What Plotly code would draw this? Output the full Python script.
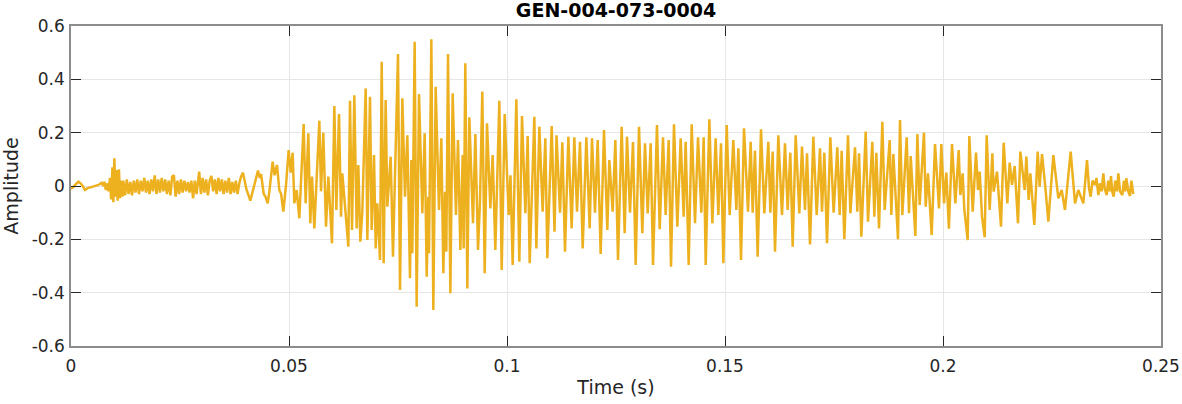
import numpy as np
import plotly.graph_objects as go

# time in ms, amplitude (peaks / troughs)
onset_t_ms = [0.0, 0.5, 1.0, 1.7, 2.2, 2.7, 3.2, 3.8, 4.5, 5.5, 6.3, 7.0, 7.4, 7.65, 8.0,
              8.3, 8.6, 8.95, 9.2, 9.5, 9.71, 9.94, 10.2, 10.47, 10.7, 11.0, 11.24, 11.5, 11.8]
onset_amp = [-0.01, -0.005, 0.005, 0.016, 0.01, 0.0, -0.015, -0.008, -0.005, 0.0, 0.004, 0.012, 0.0, 0.016, -0.015,
             0.01, -0.02, 0.03, -0.05, 0.07, -0.061, 0.104, -0.04, 0.06, -0.055, 0.0625, -0.046, 0.02, -0.04]

noise_t_ms = [12.0, 12.4, 12.8, 13.2, 13.6, 14.0, 14.4, 14.8, 15.2, 15.6, 16.0, 16.4, 16.8, 17.2, 17.6,
              18.0, 18.4, 18.8, 19.2, 19.6, 20.0, 20.4, 20.8, 21.2, 21.6, 22.0, 22.4, 22.8, 23.2, 23.6,
              24.0, 24.4, 24.8, 25.2, 25.6, 26.0, 26.4, 26.8, 27.2, 27.6, 28.0, 28.4, 28.8, 29.4, 29.8,
              30.2, 30.6, 31.0, 31.4, 31.8, 32.2, 32.6, 33.0, 33.4, 33.8, 34.2, 34.6, 35.0, 35.4, 35.8,
              36.2, 36.6, 37.0, 37.4, 37.8, 38.2, 38.6, 39.0, 39.45, 40.2, 41.13, 42.0, 42.89, 43.3,
              43.6, 44.2, 44.6]
noise_amp = [0.02, -0.035, 0.025, -0.03, 0.015, -0.035, 0.02, -0.025, 0.025, -0.03, 0.02, -0.02, 0.03, -0.025, 0.02,
             -0.03, 0.025, -0.02, 0.04, -0.03, 0.025, -0.025, 0.03, -0.02, 0.025, -0.03, 0.02, -0.035, 0.035, 0.04,
             -0.04, 0.02, -0.03, 0.025, -0.025, 0.02, -0.02, 0.015, -0.025, 0.02, -0.046, 0.02, -0.03, 0.054, -0.03,
             0.03, -0.025, 0.025, -0.035, 0.02, 0.038, -0.02, 0.025, -0.03, 0.03, -0.02, 0.025, -0.03, 0.02, -0.025,
             0.03, -0.03, 0.015, -0.025, 0.02, -0.03, 0.01, 0.035, 0.05, -0.01, -0.055, 0.0, 0.0575, 0.03,
             0.045, -0.03, -0.04]

burst_t_ms = [45.11, 45.5, 46.25, 46.7, 47.25, 47.78, 48.2, 48.7, 49.3, 49.92, 50.4, 50.84, 51.22, 51.76, 52.37,
              53.36, 53.82, 54.43, 54.89, 55.28, 55.81, 56.96, 57.34, 57.87, 58.49, 59.02, 59.86, 60.4, 60.86, 61.47,
              61.93, 62.23, 63.61, 63.99, 64.45, 64.98, 65.52, 65.9, 66.36, 66.82, 67.59, 67.97, 68.58, 68.96, 69.5,
              69.88, 70.26, 70.87, 71.26, 71.71, 72.17, 72.55, 73.32, 73.85, 75.0, 75.46, 75.99, 76.61, 77.14, 77.75,
              78.06, 78.29, 78.82, 79.28, 79.82, 80.58, 81.12, 81.58, 81.96, 82.11, 82.65, 83.1, 83.64, 84.4, 84.94,
              85.4, 85.78, 86.09, 86.47, 87.01, 87.54, 88.3, 88.76, 89.3, 89.83, 90.06, 90.44, 90.9, 91.36, 92.2,
              92.74, 93.35, 93.8, 94.34, 94.88, 95.41, 96.18, 96.71, 97.32, 98.24, 98.78, 99.47, 100.38, 100.8, 101.3,
              102.14, 102.83, 103.44, 104.21, 104.74, 105.2, 106.27, 106.73, 107.42, 108.18, 108.79, 109.25, 110.25, 110.9]
burst_amp = [-0.065, -0.02, 0.091, 0.04, 0.079, -0.015, -0.03, -0.096, 0.0, 0.135, 0.05, 0.125, -0.065, -0.015, -0.121,
             0.2325, -0.065, 0.1975, -0.14, 0.035, -0.159, 0.245, -0.02, 0.2, -0.1525, 0.035, -0.215, 0.3, -0.09, 0.27,
             -0.115, 0.0475, -0.2275, 0.32, -0.165, 0.34, -0.159, 0.079, -0.209, -0.096, 0.366, -0.2025, 0.335, -0.165, 0.116,
             -0.234, -0.065, -0.2775, 0.466, -0.29, 0.3225, -0.0775, 0.11, -0.265, 0.495, -0.39, 0.329, -0.04, 0.19, -0.346,
             0.0975, -0.2525, 0.541, -0.4525, 0.345, -0.1025, 0.1975, -0.34, -0.04, -0.2525, 0.55, -0.465, 0.3725, -0.09, 0.179,
             -0.3275, -0.0215, -0.246, 0.495, -0.4025, 0.3475, -0.109, 0.1725, -0.24, 0.116, -0.234, 0.46, -0.384, 0.2575, -0.14,
             0.195, -0.24, -0.06, 0.354, -0.3275, 0.235, -0.084, 0.116, -0.24, 0.32, -0.315, 0.27, -0.109, 0.04, -0.296,
             0.325, -0.284, 0.2625, -0.1025, 0.1875, -0.29, 0.26, -0.234, 0.2225, -0.096, 0.179, -0.271, 0.225, -0.171]

sustain_t_ms = [111.36, 112.16, 112.69, 113.3, 114.07, 114.83, 115.44, 116.06, 116.74, 117.36, 118.2, 118.96, 119.5, 120.18, 120.8,
                121.48, 122.25, 123.01, 123.47, 124.24, 124.85, 125.46, 126.3, 126.99, 127.52, 128.21, 128.9, 129.51, 130.28, 131.04,
                131.65, 132.27, 132.95, 133.49, 134.4, 135.02, 135.78, 136.39, 137.08, 137.62, 138.3, 139.07, 139.83, 140.52, 140.98,
                141.67, 142.36, 143.12, 143.81, 144.57, 145.11, 145.57, 146.41, 147.1, 147.86, 148.47, 149.08, 149.62, 150.39, 151.07,
                151.91, 152.6, 153.06, 153.67, 154.36, 155.28, 155.89, 156.35, 156.88, 157.49, 158.26, 159.02, 159.94, 160.4, 160.93,
                161.47, 162.23, 163.07, 163.76, 164.37, 164.98, 165.52, 166.21, 167.05, 167.66, 168.35, 168.81, 169.5, 170.26, 171.03,
                171.79, 172.25, 172.78, 173.4, 174.16, 174.92, 175.76, 176.3, 176.76, 177.37, 178.21, 178.75, 179.82, 180.35, 180.74,
                181.27, 182.27, 182.8, 183.79, 184.25, 184.71, 185.32, 186.09, 186.62, 187.77, 188.15, 188.61, 189.68, 190.14, 190.67,
                191.67, 192.2, 192.59, 193.66, 194.12, 194.65, 195.64, 196.03, 196.56, 197.4, 198.17, 199.08, 199.62, 200.23, 200.76]
sustain_amp = [0.19, -0.1, 0.164, -0.246, 0.185, -0.159, 0.1825, -0.096, 0.166, -0.234, 0.1825, -0.159, 0.179, -0.1, 0.1725,
               -0.255, 0.21, -0.165, 0.0975, -0.096, 0.1725, -0.2775, 0.2225, -0.1775, 0.185, -0.1, 0.165, -0.296, 0.2225, -0.1775,
               0.16, -0.1025, 0.16, -0.296, 0.229, -0.1625, 0.1825, -0.109, 0.1725, -0.3025, 0.231, -0.1525, 0.179, -0.115, 0.166,
               -0.296, 0.231, -0.14, 0.1825, -0.1, 0.1825, -0.296, 0.25, -0.14, 0.179, -0.109, 0.16, -0.29, 0.229, -0.109,
               0.1725, -0.09, 0.141, -0.2775, 0.216, -0.096, 0.166, -0.1, 0.1325, -0.265, 0.2125, -0.1025, 0.166, -0.1, 0.129,
               -0.246, 0.19, -0.109, 0.16, -0.09, 0.125, -0.2275, 0.19, -0.1025, 0.1475, -0.09, 0.1225, -0.219, 0.185, -0.109,
               0.141, -0.096, 0.125, -0.215, 0.1825, -0.1, 0.145, -0.109, 0.1325, -0.2, 0.19, -0.1025, 0.145, -0.096, 0.1225,
               -0.19, 0.204, -0.134, 0.166, -0.115, 0.125, -0.159, 0.241, -0.09, 0.1725, -0.109, 0.12, -0.2, 0.2475, -0.109,
               0.1825, -0.1025, 0.1125, -0.1875, 0.195, -0.071, 0.2, -0.0775, 0.0475, -0.184, 0.1575, -0.084, 0.1575, -0.065, 0.05]

decay_t_ms = [201.35, 202.07, 202.83, 203.6, 203.98, 204.51, 204.9, 205.66, 206.04, 206.81, 207.57, 208.03, 208.41, 208.95, 209.56,
              210.02, 210.71, 211.32, 211.62, 212.39, 213.3, 213.92, 214.76, 215.29, 215.83, 216.44, 217.2, 217.74, 218.73, 219.11,
              219.65, 220.03, 220.95, 221.72, 222.17, 222.71, 223.5, 224.16, 225.31, 226.46, 227.22, 227.98, 229.28, 230.28, 231.04,
              232.19, 233.03, 233.5, 233.87, 234.3, 234.86, 235.2, 235.63, 236.0, 236.4, 236.77, 237.1, 237.54, 237.9, 238.2,
              238.53, 238.8, 239.14, 239.5, 239.9, 240.22, 240.6, 241.13, 241.5, 241.8, 242.05, 242.5, 242.89, 243.2, 243.65]
decay_amp = [-0.16, 0.1575, -0.065, 0.135, -0.034, 0.0475, -0.09, -0.2025, 0.1875, -0.096, 0.125, -0.015, 0.054, -0.115, -0.1925,
             0.19, -0.09, 0.1225, -0.021, 0.054, -0.1525, 0.1625, -0.065, 0.0875, 0.004, 0.075, -0.14, 0.129, -0.015, 0.11,
             -0.0525, 0.0475, -0.146, 0.129, -0.0025, 0.12, -0.01, -0.134, 0.116, -0.046, -0.015, -0.09, 0.129, -0.065, -0.015,
             -0.065, 0.0975, -0.01, -0.04, 0.02, 0.004, 0.03, -0.034, 0.01, -0.02, 0.0475, -0.01, -0.034, 0.02, -0.02,
             0.0375, -0.02, -0.04, 0.02, -0.02, 0.0475, -0.02, -0.034, 0.02, -0.02, 0.029, -0.02, -0.0375, 0.02, -0.03]

x_tick_vals = [0, 0.05, 0.1, 0.15, 0.2, 0.25]
x_tick_text = ['0', '0.05', '0.1', '0.15', '0.2', '0.25']
y_tick_vals = [-0.6, -0.4, -0.2, 0, 0.2, 0.4, 0.6]
y_tick_text = ['-0.6', '-0.4', '-0.2', '0', '0.2', '0.4', '0.6']

time_s = np.array(onset_t_ms + noise_t_ms + burst_t_ms + sustain_t_ms + decay_t_ms) / 1000
amplitude = np.array(onset_amp + noise_amp + burst_amp + sustain_amp + decay_amp)

font_family = 'DejaVu Sans, Arial, sans-serif'

fig = go.Figure(go.Scatter(
    x = time_s,
    y = amplitude,
    mode = 'lines',
    line = dict(color = '#EDB120', width = 2.5),
    showlegend = False))

axis_style = dict(
    showline = True,
    mirror = 'ticks',
    linecolor = '#8c8c8c',
    linewidth = 1.5,
    ticks = 'inside',
    ticklen = 10,
    tickwidth = 1,
    tickcolor = '#262626',
    showgrid = True,
    gridcolor = '#e6e6e6',
    gridwidth = 1,
    zeroline = False,
    automargin = False,
    tickfont = dict(family = font_family, size = 17, color = '#262626'))

fig.update_xaxes(
    range = [0, 0.25],
    tickvals = x_tick_vals,
    ticktext = x_tick_text,
    ticklabelstandoff = 4,
    title = dict(text = 'Time (s)', standoff = 6,
                 font = dict(family = font_family, size = 19, color = '#262626')),
    **axis_style)

fig.update_yaxes(
    range = [-0.6, 0.6],
    tickvals = y_tick_vals,
    ticktext = y_tick_text,
    ticklabelstandoff = 1,
    title = dict(text = 'Amplitude', standoff = 10,
                 font = dict(family = font_family, size = 19, color = '#262626')),
    **axis_style)

fig.update_layout(
    width = 1182,
    height = 404,
    margin = dict(l = 71, r = 21, t = 26, b = 58, autoexpand = False),
    plot_bgcolor = 'white',
    paper_bgcolor = 'white',
    title = dict(
        text = '<b>GEN-004-073-0004</b>',
        x = 0.5,
        xref = 'paper',
        xanchor = 'center',
        y = 0.975,
        yref = 'container',
        yanchor = 'middle',
        font = dict(family = font_family, size = 19, color = '#000000')))

# drop the browser's default 8 px body margin so the figure sits at the page corner
fig.write_html("out.html",
               config = {'displayModeBar': False},
               post_script = "document.body.style.margin = '0';")
